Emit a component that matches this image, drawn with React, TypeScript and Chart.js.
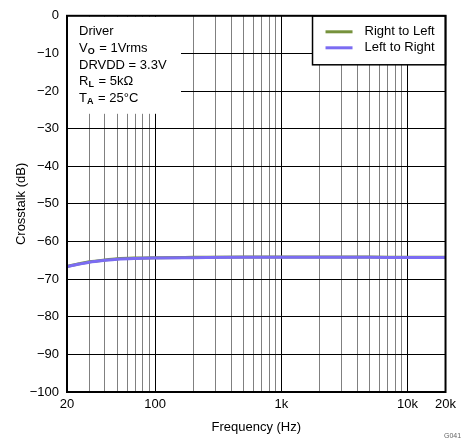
import React, { useEffect, useRef } from "react";
import { Chart, registerables } from "chart.js";

Chart.register(...registerables);

const frequencies = [20, 25, 30, 40, 50, 70, 100, 200, 500, 1000, 2000, 5000, 10000, 20000];
const rightToLeft = [-66.6, -65.9, -65.4, -64.9, -64.6, -64.4, -64.3, -64.2, -64.1, -64.1, -64.1, -64.1, -64.2, -64.2];
const leftToRight = [-66.7, -66.0, -65.5, -65.0, -64.7, -64.5, -64.4, -64.3, -64.2, -64.2, -64.2, -64.2, -64.25, -64.25];
const xGridValues = [20, 30, 40, 50, 60, 70, 80, 90, 100, 200, 300, 400, 500, 600, 700, 800, 900, 1000, 2000, 3000, 4000, 5000, 6000, 7000, 8000, 9000, 10000, 20000];
const xLabels: Record<number, string> = { 20: "20", 100: "100", 1000: "1k", 10000: "10k", 20000: "20k" };
const majorX = [100, 1000, 10000];
const seriesNames = ["Right to Left", "Left to Right"];
const seriesColors = ["#76923c", "#7b6cf2"];

const FONT = "'Liberation Sans', Arial, sans-serif";

const overlay = {
  id: "overlay",
  afterDatasetsDraw(chart: any) {
    const ctx = chart.ctx;
    const { left, right, top, bottom } = chart.chartArea;
    ctx.save();
    // annotation box
    ctx.fillStyle = "#fff";
    ctx.fillRect(left + 1, top + 1, 113, 97);
    ctx.fillStyle = "#000";
    ctx.textBaseline = "middle";
    ctx.textAlign = "left";
    const x0 = left + 12;
    const big = `13px ${FONT}`;
    const sub = `bold 9px ${FONT}`;
    const drawSub = (main: string, s: string, rest: string, y: number) => {
      ctx.font = big;
      ctx.fillText(main, x0, y);
      let x = x0 + ctx.measureText(main).width;
      ctx.font = sub;
      ctx.fillText(s, x, y + 3);
      x += ctx.measureText(s).width + 1;
      ctx.font = big;
      ctx.fillText(rest, x, y);
    };
    ctx.font = big;
    ctx.fillText("Driver", x0, top + 16);
    drawSub("V", "O", " = 1Vrms", top + 33);
    ctx.font = big;
    ctx.fillText("DRVDD = 3.3V", x0, top + 50);
    drawSub("R", "L", " = 5k\u03A9", top + 66);
    drawSub("T", "A", " = 25\u00B0C", top + 83);

    // legend box
    const lx = right - 133;
    const lw = 133;
    const lh = 49;
    ctx.fillStyle = "#fff";
    ctx.fillRect(lx, top, lw, lh);
    ctx.strokeStyle = "#000";
    ctx.lineWidth = 1.5;
    ctx.strokeRect(lx, top, lw, lh);
    seriesNames.forEach((name, i) => {
      const y = top + 16 + i * 16;
      ctx.strokeStyle = seriesColors[i];
      ctx.lineWidth = 3;
      ctx.beginPath();
      ctx.moveTo(lx + 13, y);
      ctx.lineTo(lx + 40, y);
      ctx.stroke();
      ctx.fillStyle = "#000";
      ctx.font = big;
      ctx.fillText(name, lx + 52, y);
    });

    // frame
    ctx.strokeStyle = "#000";
    ctx.lineWidth = 2;
    ctx.strokeRect(left, top, right - left, bottom - top);

    // figure id
    ctx.fillStyle = "#666";
    ctx.font = `7px ${FONT}`;
    ctx.fillText("G041", 444, 436);
    ctx.restore();
  },
};

export default function App() {
  const ref = useRef<HTMLCanvasElement>(null);
  useEffect(() => {
    if (!ref.current) return;
    const chart = new Chart(ref.current, {
      type: "line",
      data: {
        labels: frequencies,
        datasets: [
          {
            label: seriesNames[0],
            data: frequencies.map((f, i) => ({ x: f, y: rightToLeft[i] })),
            borderColor: seriesColors[0],
            borderWidth: 3,
            pointRadius: 0,
            cubicInterpolationMode: "monotone",
            order: 1,
          },
          {
            label: seriesNames[1],
            data: frequencies.map((f, i) => ({ x: f, y: leftToRight[i] })),
            borderColor: seriesColors[1],
            borderWidth: 3,
            pointRadius: 0,
            cubicInterpolationMode: "monotone",
            order: 0,
          },
        ],
      },
      options: {
        animation: false,
        responsive: false,
        devicePixelRatio: 1,
        layout: { padding: { left: 0, top: 12, right: 14, bottom: 0 } },
        plugins: { legend: { display: false }, tooltip: { enabled: false } },
        scales: {
          x: {
            type: "logarithmic",
            min: 20,
            max: 20000,
            afterBuildTicks: (scale: any) => {
              scale.ticks = xGridValues.map((v) => ({ value: v }));
            },
            afterFit: (scale: any) => {
              scale.height = 47;
            },
            ticks: {
              autoSkip: false,
              maxRotation: 0,
              padding: 5,
              color: "#000",
              font: { family: FONT, size: 13 },
              callback: (v: any) => xLabels[Number(v)] ?? "",
            },
            grid: {
              drawTicks: false,
              color: (c: any) => (majorX.includes(c.tick?.value) ? "#000" : "#808080"),
              lineWidth: 1,
            },
            border: { display: false },
            title: {
              display: true,
              text: "Frequency (Hz)",
              color: "#000",
              font: { family: FONT, size: 13 },
              padding: { top: 4, bottom: 4 },
            },
          },
          y: {
            min: -100,
            max: 0,
            afterFit: (scale: any) => {
              scale.width = 67;
            },
            ticks: {
              stepSize: 10,
              padding: 8,
              color: "#000",
              font: { family: FONT, size: 13 },
              callback: (v: any) => (Number(v) < 0 ? "\u2212" + Math.abs(Number(v)) : String(v)),
            },
            grid: { drawTicks: false, color: "#000", lineWidth: 1 },
            border: { display: false },
            title: {
              display: true,
              text: "Crosstalk (dB)",
              color: "#000",
              font: { family: FONT, size: 13 },
              padding: { top: 14, bottom: 6 },
            },
          },
        },
      } as any,
      plugins: [overlay],
    });
    return () => chart.destroy();
  }, []);
  return (
    <canvas
      ref={ref}
      width={461}
      height={439}
      style={{ position: "absolute", left: 0, top: 0, width: 461, height: 439 }}
    />
  );
}
